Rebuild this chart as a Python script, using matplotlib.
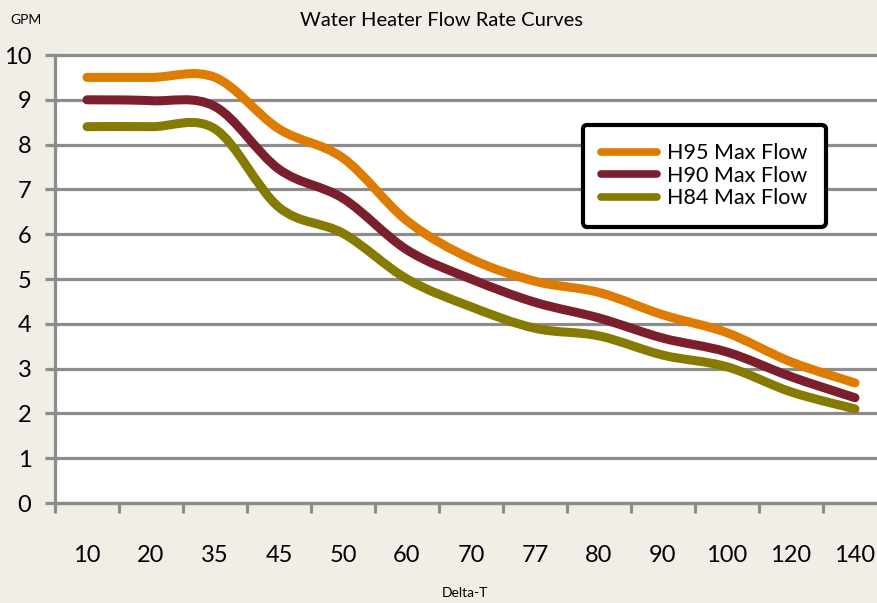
import numpy as np
import matplotlib
matplotlib.use('Agg')
import matplotlib.pyplot as plt
from matplotlib.path import Path
from matplotlib.patches import PathPatch
from matplotlib.lines import Line2D

plt.rcParams['font.family'] = ['Lato', 'DejaVu Sans']

# data
delta_t = ['10', '20', '35', '45', '50', '60', '70', '77', '80', '90', '100', '120', '140']
h95 = [9.5, 9.5, 9.5, 8.35, 7.7, 6.3, 5.45, 4.95, 4.7, 4.2, 3.8, 3.15, 2.68]
h90 = [9.0, 8.98, 8.85, 7.45, 6.8, 5.65, 5.0, 4.48, 4.13, 3.68, 3.37, 2.82, 2.35]
h84 = [8.4, 8.4, 8.35, 6.6, 6.02, 5.0, 4.38, 3.9, 3.73, 3.3, 3.04, 2.48, 2.1]
series_names = ['H95 Max Flow', 'H90 Max Flow', 'H84 Max Flow']
colors = ['#DD7C00', '#7B1F2D', '#857B00']

grid_col = '#8C8C8C'


def smooth_path(x, y):
    # smoothed line like a spreadsheet chart: cubic bezier through every point
    x = np.asarray(x, float)
    y = np.asarray(y, float)
    px = np.concatenate([[x[0]], x, [x[-1]]])
    py = np.concatenate([[y[0]], y, [y[-1]]])
    verts = [(x[0], y[0])]
    codes = [Path.MOVETO]
    for i in range(len(x) - 1):
        c1 = (x[i] + (px[i + 2] - px[i]) / 6, y[i] + (py[i + 2] - py[i]) / 6)
        c2 = (x[i + 1] - (px[i + 3] - px[i + 1]) / 6, y[i + 1] - (py[i + 3] - py[i + 1]) / 6)
        verts += [c1, c2, (x[i + 1], y[i + 1])]
        codes += [Path.CURVE4] * 3
    return Path(verts, codes)


fig = plt.figure(figsize=(8.78, 6.03), dpi=100)
fig.patch.set_facecolor('#F1EDE7')

W, H = 878, 603
ax = fig.add_axes([55 / W, 100 / H, 832 / W, 448 / H])
ax.set_facecolor('white')
ax.set_xlim(-0.5, len(delta_t) - 0.5)
ax.set_ylim(0, 10)

xpos = np.arange(len(delta_t))
for vals, c in zip([h95, h90, h84], colors):
    ax.add_patch(PathPatch(smooth_path(xpos, vals), fill=False, edgecolor=c,
                           lw=6.5, capstyle='round', joinstyle='round', zorder=3))

# y axis
ax.set_yticks(range(11))
ax.yaxis.grid(True, color=grid_col, lw=2.3)
for gl in ax.yaxis.get_gridlines():
    gl.set_clip_on(False)
ax.set_axisbelow(True)
ax.tick_params(axis='y', direction='out', length=7, width=2.3, color=grid_col,
               labelsize=17, pad=10)

# x axis: ticks between categories, labels in the middle
ax.set_xticks(np.arange(-0.5, len(delta_t), 1))
ax.set_xticklabels([])
ax.set_xticks(xpos, minor=True)
ax.set_xticklabels(delta_t, minor=True)
ax.tick_params(axis='x', which='major', direction='out', length=7, width=2.3, color=grid_col)
ax.tick_params(axis='x', which='minor', length=0, labelsize=17, pad=30)

for s in ['top', 'right']:
    ax.spines[s].set_visible(False)
for s in ['left', 'bottom']:
    ax.spines[s].set_color(grid_col)
    ax.spines[s].set_linewidth(2.3)

fig.text(442 / W, 1 - 20 / H, 'Water Heater Flow Rate Curves', ha='center', va='center', fontsize=14.5)
fig.text(10 / W, 1 - 20 / H, 'GPM', ha='left', va='center', fontsize=10)
fig.text(465 / W, 1 - 593 / H, 'Delta-T', ha='center', va='center', fontsize=10)

handles = [Line2D([], [], color=c, lw=5.5, solid_capstyle='round') for c in colors]
leg = ax.legend(handles, series_names, loc='upper left',
                bbox_to_anchor=(583 / W, 1 - 125 / H), bbox_transform=fig.transFigure,
                fontsize=15.5, frameon=True, fancybox=True, framealpha=1,
                edgecolor='black', borderpad=0.85, handlelength=2.6,
                handletextpad=0.45, labelspacing=0.12, borderaxespad=0)
leg.get_frame().set_linewidth(3)

fig.savefig('out.png', dpi=100, facecolor=fig.get_facecolor())
